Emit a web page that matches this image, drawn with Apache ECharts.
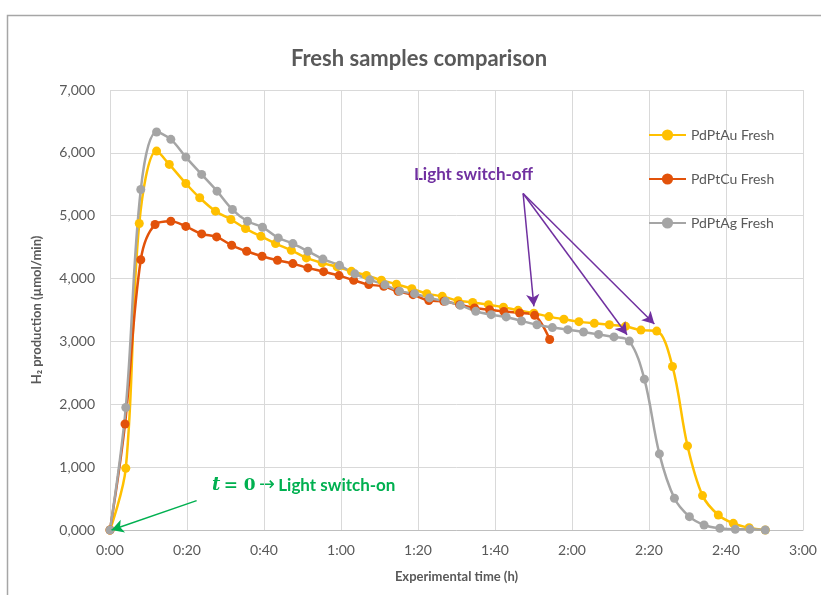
<!DOCTYPE html>
<html>
<head>
<meta charset="utf-8">
<script src="https://cdn.jsdelivr.net/npm/echarts@6/dist/echarts.min.js"></script>
<style>
html, body { margin: 0; padding: 0; background: #fff; }
#main { width: 821px; height: 595px; }
</style>
</head>
<body>
<div id="main"></div>
<script>
// time in minutes, H2 production in umol/min
var auTime = [0, 4.1, 7.6, 12.1, 15.4, 19.7, 23.3, 27.4, 31.4, 35.2, 39.2, 43.0, 47.1, 51.0, 55.1, 59.0, 62.7, 66.6, 70.5, 74.4,
    78.4, 82.3, 86.3, 90.4, 94.2, 98.3, 102.2, 106.0, 110.1, 114.0, 117.9, 121.8, 125.8, 129.7, 133.9, 137.9, 142.0, 146.1, 150.0, 153.9,
    158.0, 161.9, 166.0, 170.2];
var auValue = [0, 983, 4876, 6028, 5816, 5513, 5285, 5072, 4940, 4796, 4673, 4557, 4450, 4329, 4250, 4185, 4115, 4050, 3975, 3910,
    3838, 3760, 3717, 3648, 3621, 3585, 3545, 3495, 3450, 3395, 3352, 3315, 3288, 3265, 3240, 3180, 3165, 2602, 1338, 547,
    239, 106, 37, 0];

var cuTime = [0, 3.9, 8.0, 11.7, 15.8, 19.7, 23.8, 27.7, 31.6, 35.5, 39.5, 43.5, 47.5, 51.4, 55.5, 59.5, 63.3, 67.2, 71.1, 74.8,
    78.7, 82.8, 86.7, 90.8, 94.7, 98.6, 102.3, 106.4, 110.3, 114.2];
var cuValue = [0, 1686, 4300, 4860, 4912, 4830, 4710, 4663, 4530, 4435, 4355, 4291, 4238, 4170, 4110, 4047, 3972, 3904, 3877, 3797,
    3744, 3650, 3638, 3585, 3532, 3505, 3478, 3453, 3415, 3030];

var agTime = [0, 4.1, 8.0, 12.1, 15.8, 19.7, 23.8, 27.8, 31.8, 35.7, 39.6, 43.7, 47.5, 51.4, 55.3, 59.6, 63.6, 67.5, 71.4, 75.2,
    79.1, 83.0, 87.1, 91.0, 95.0, 99.0, 102.9, 106.9, 110.9, 114.9, 118.9, 123.0, 126.9, 130.9, 134.9, 138.8, 142.7, 146.6, 150.5, 154.3,
    158.4, 162.4, 166.2, 170.2];
var agValue = [0, 1949, 5417, 6331, 6215, 5933, 5657, 5391, 5098, 4912, 4817, 4647, 4557, 4435, 4310, 4210, 4075, 3980, 3900, 3800,
    3760, 3692, 3638, 3574, 3479, 3426, 3390, 3325, 3266, 3220, 3187, 3150, 3112, 3072, 3005, 2400, 1211, 505, 212, 80,
    27, 11, 11, 0];

var seriesNames = ['PdPtAu Fresh', 'PdPtCu Fresh', 'PdPtAg Fresh'];
var seriesColors = ['#FFC000', '#E2520A', '#A5A5A5'];

// annotation arrows, in data coordinates [min, value]
var offArrowStart = [107.3, 5354];
var offArrowEnds = [[110.1, 3558], [134.3, 3107], [141.4, 3278]];
var onArrowStart = [22.5, 467];
var onArrowEnd = [0.4, 0];

var textColor = '#595959';
var font = 'Lato, "Open Sans", sans-serif';

function pairs(t, v) {
    return t.map(function (x, i) { return [x, v[i]]; });
}

function fmtTime(m) {
    var h = Math.floor(m / 60);
    var mm = Math.round(m % 60);
    return h + ':' + (mm < 10 ? '0' : '') + mm;
}

function fmtValue(v) {
    if (v === 0) return '0,000';
    return v.toLocaleString('en-US');
}

function lineSeries(name, color, data, extra) {
    var s = {
        name: name,
        type: 'line',
        data: data,
        smooth: 0.35,
        symbol: 'circle',
        symbolSize: 9,
        showSymbol: true,
        lineStyle: { color: color, width: 2.5 },
        itemStyle: { color: color },
        emphasis: { disabled: true }
    };
    for (var k in extra) s[k] = extra[k];
    return s;
}

var myChart = echarts.init(document.getElementById('main'));

var offLines = offArrowEnds.map(function (e) {
    return [{ coord: offArrowStart }, { coord: e }];
});

var option = {
    animation: false,
    backgroundColor: '#fff',
    title: {
        text: 'Fresh samples comparison',
        left: 414,
        top: 43,
        textAlign: 'center',
        textStyle: { color: textColor, fontSize: 22, fontWeight: 'bold', fontFamily: font }
    },
    legend: {
        orient: 'vertical',
        left: 643,
        top: 123,
        itemGap: 30,
        itemWidth: 37,
        itemHeight: 14,
        data: seriesNames,
        textStyle: { color: textColor, fontSize: 14, fontFamily: font }
    },
    grid: {
        left: 110,
        right: 18,
        top: 90,
        bottom: 65
    },
    xAxis: {
        type: 'value',
        min: 0,
        max: 180,
        interval: 20,
        name: 'Experimental time (h)',
        nameLocation: 'middle',
        nameGap: 40,
        nameTextStyle: { color: textColor, fontSize: 13, fontWeight: 'bold', fontFamily: font },
        axisLine: { show: true, lineStyle: { color: '#BFBFBF', width: 1 } },
        axisTick: { show: false },
        axisLabel: { color: textColor, fontSize: 14, margin: 13, fontFamily: font, formatter: fmtTime },
        splitLine: { show: true, lineStyle: { color: '#D9D9D9', width: 1 } }
    },
    yAxis: {
        type: 'value',
        min: 0,
        max: 7000,
        interval: 1000,
        name: 'H\u2082 production (\u00b5mol/min)',
        nameLocation: 'middle',
        nameGap: 67,
        nameTextStyle: { color: textColor, fontSize: 13, fontWeight: 'bold', fontFamily: font },
        axisLine: { show: false },
        axisTick: { show: false },
        axisLabel: { color: textColor, fontSize: 14, margin: 15, fontFamily: font, formatter: fmtValue },
        splitLine: { show: true, lineStyle: { color: '#D9D9D9', width: 1 } }
    },
    series: [
        lineSeries(seriesNames[0], seriesColors[0], pairs(auTime, auValue), {}),
        lineSeries(seriesNames[1], seriesColors[1], pairs(cuTime, cuValue), {}),
        lineSeries(seriesNames[2], seriesColors[2], pairs(agTime, agValue), {
            markLine: {
                silent: true,
                symbol: ['none', 'arrow'],
                symbolSize: [10, 12],
                label: { show: false },
                lineStyle: { color: '#7030A0', width: 1.5, type: 'solid' },
                data: offLines.concat([
                    [{ coord: onArrowStart, lineStyle: { color: '#00B050' } },
                     { coord: onArrowEnd, lineStyle: { color: '#00B050' } }]
                ])
            }
        })
    ],
    graphic: [
        {
            type: 'polyline',
            silent: true,
            shape: { points: [[7.5, 595], [7.5, 15.5], [821, 15.5]] },
            style: { stroke: '#A6A6A6', lineWidth: 1.5, fill: null }
        },
        {
            type: 'text',
            left: 414,
            top: 166,
            style: {
                text: 'Light switch-off',
                fill: '#7030A0',
                font: 'bold 17px ' + font
            }
        },
        {
            type: 'text',
            left: 212,
            top: 476,
            style: {
                rich: {
                    m: { fontFamily: '"DejaVu Serif", serif', fontStyle: 'italic', fontWeight: 'bold', fontSize: 18, fill: '#00B050' },
                    e: { fontFamily: '"DejaVu Serif", serif', fontWeight: 'bold', fontSize: 17, fill: '#00B050' },
                    a: { fontFamily: '"DejaVu Sans", sans-serif', fontSize: 19, fill: '#00B050' },
                    s: { fontFamily: font, fontWeight: 'bold', fontSize: 17, fill: '#00B050' }
                },
                text: '{m|t} {e|= 0} {a|\u2192} {s|Light switch-on}'
            }
        }
    ]
};
myChart.setOption(option);
</script>
</body>
</html>
